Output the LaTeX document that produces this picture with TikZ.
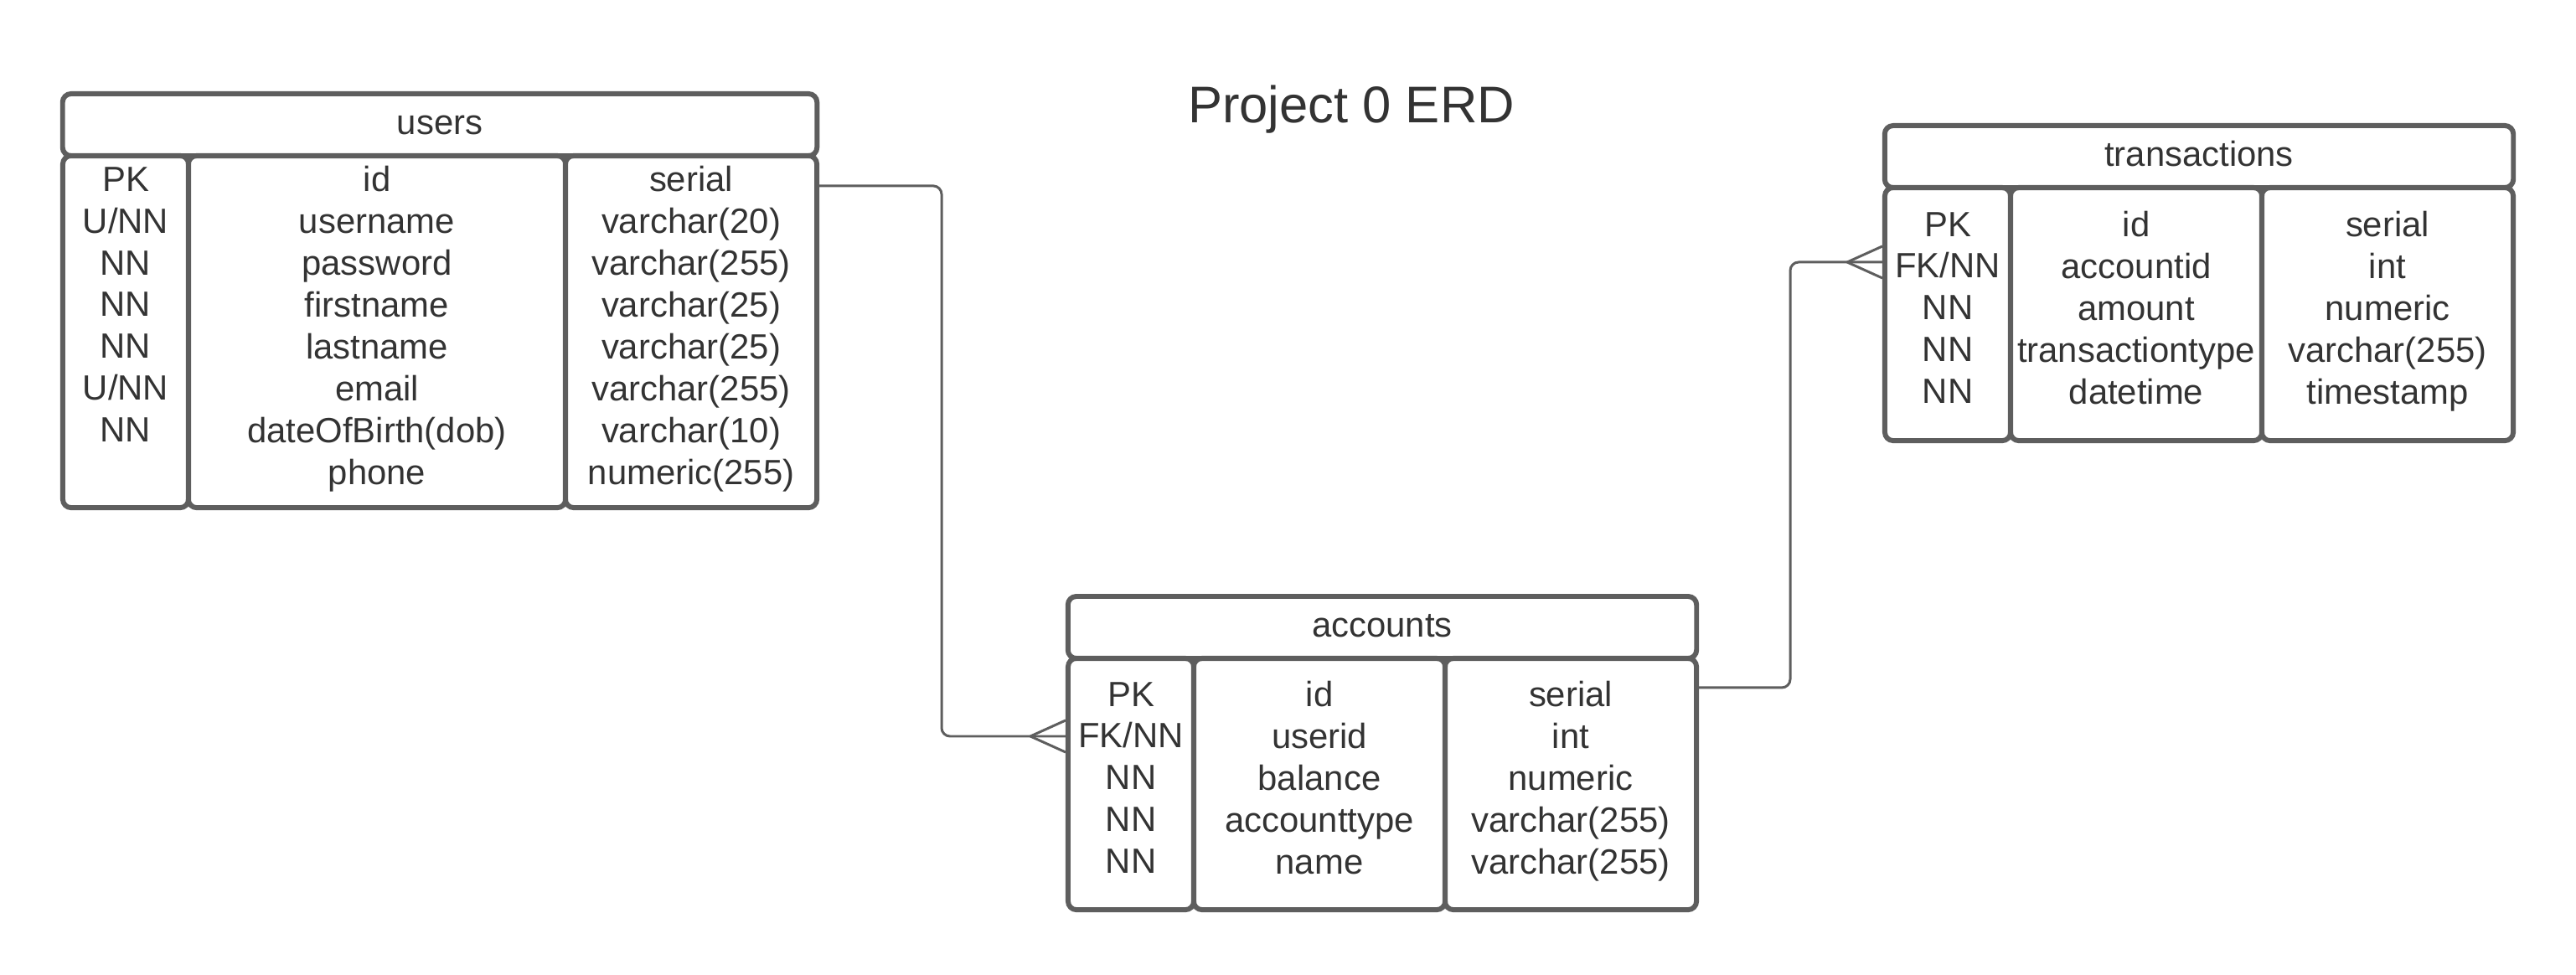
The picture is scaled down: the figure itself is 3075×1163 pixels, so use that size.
\documentclass[tikz,border=0pt]{standalone}
\usepackage{fontspec}
\setmainfont{Liberation Sans}
\definecolor{linegray}{HTML}{5E5E5E}
\definecolor{textgray}{HTML}{333333}
\begin{document}
\begin{tikzpicture}[x=0.01cm, y=-0.01cm]

      \tikzset{tbl/.style={draw=linegray, line width=1.7pt, rounded corners=0.1cm, inner sep=0pt, text=textgray, font=\fontsize{11.9}{14.2}\selectfont, align=center},
               head/.style={tbl, minimum height=0.74cm, text height=9.5pt, text depth=3pt},
               cols/.style={tbl, execute at begin node={\rule{0pt}{12.8pt}\strut}, execute at end node=\strut},
               link/.style={draw=linegray, line width=0.85pt}}
      \useasboundingbox (0,0) rectangle (3075,1163);
%% Title
      \node[text=textgray, font=\fontsize{17.5}{21}\selectfont, anchor=base] (title) at (1613,146) {Project 0 ERD};
%% users
      \node[head, minimum width=9cm] (users) at (525,149) {users};
      \node[cols, minimum width=1.5cm, minimum height=4.2cm] (u1) at (150,396) {PK\\U/NN\\NN\\NN\\NN\\U/NN\\NN\\};
      \node[cols, minimum width=4.5cm, minimum height=4.2cm] (u2) at (450,396) {id\\username\\password\\firstname\\lastname\\email\\dateOfBirth(dob)\\phone};
      \node[cols, minimum width=3cm, minimum height=4.2cm] (u3) at (825,396) {serial\\varchar(20)\\varchar(255)\\varchar(25)\\varchar(25)\\varchar(255)\\varchar(10)\\numeric(255)};
%% accounts
      \node[head, minimum width=7.5cm] (accounts) at (1650,749) {accounts};
      \node[cols, minimum width=1.5cm, minimum height=3cm] (a1) at (1350,936) {PK\\FK/NN\\NN\\NN\\NN};
      \node[cols, minimum width=3cm, minimum height=3cm] (a2) at (1575,936) {id\\userid\\balance\\accounttype\\name};
      \node[cols, minimum width=3cm, minimum height=3cm] (a3) at (1875,936) {serial\\int\\numeric\\varchar(255)\\varchar(255)};
%% transactions
      \node[head, minimum width=7.5cm] (transactions) at (2625,187) {transactions};
      \node[cols, minimum width=1.5cm, minimum height=3.02cm] (t1) at (2325,375) {PK\\FK/NN\\NN\\NN\\NN};
      \node[cols, minimum width=3cm, minimum height=3.02cm] (t2) at (2550,375) {id\\accountid\\amount\\transactiontype\\datetime};
      \node[cols, minimum width=3cm, minimum height=3.02cm] (t3) at (2850,375) {serial\\int\\numeric\\varchar(255)\\timestamp};
%Edges
      \coordinate (p1) at ([yshift=-0.39cm]u3.north east);
      \coordinate (p2) at ([yshift=-0.96cm]a1.north west);
      \coordinate (p3) at ([yshift=-0.38cm]a3.north east);
      \coordinate (p4) at ([yshift=-0.92cm]t1.north west);
      \coordinate (b1) at (1124,0);
      \coordinate (b2) at (2137,0);
		\draw[link, rounded corners=0.1cm] (p1) -| (b1 |- p2) -- (p2);
		\draw[link] (p2) ++(-42,0) -- ++(42,-19) (p2) ++(-42,0) -- ++(42,19);
		\draw[link, rounded corners=0.1cm] (p3) -| (b2 |- p4) -- (p4);
		\draw[link] (p4) ++(-42,0) -- ++(42,-19) (p4) ++(-42,0) -- ++(42,19);

	\end{tikzpicture}
\end{document}
